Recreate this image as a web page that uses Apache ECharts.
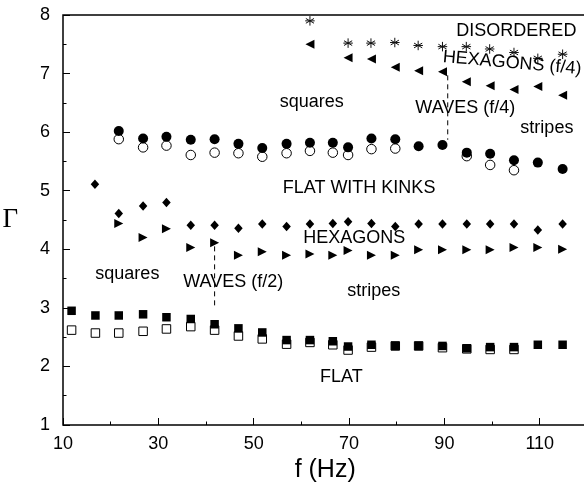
<!DOCTYPE html>
<html>
<head>
<meta charset="utf-8">
<script src="https://cdn.jsdelivr.net/npm/echarts@6/dist/echarts.min.js"></script>
<style>
  html, body { margin: 0; padding: 0; background: #fff; }
  #chart { width: 584px; height: 483px; }
</style>
</head>
<body>
<div id="chart"></div>
<script>
// ---- data ----
const asteriskF = [61.8, 69.8, 74.6, 79.6, 84.5, 89.6, 94.6, 99.5, 104.6, 109.6, 114.8];
const asteriskG = [7.90, 7.52, 7.52, 7.53, 7.48, 7.46, 7.46, 7.42, 7.36, 7.26, 7.33];

const leftTriF = [61.8, 69.8, 74.7, 79.7, 84.6, 89.6, 94.6, 99.6, 104.6, 109.6, 114.8];
const leftTriG = [7.50, 7.27, 7.25, 7.11, 7.05, 7.03, 6.86, 6.79, 6.73, 6.78, 6.63];

const fullCircF = [21.7, 26.8, 31.7, 36.8, 41.8, 46.8, 51.8, 56.9, 61.8, 66.6, 69.8, 74.7, 79.7, 84.6, 89.6, 94.7, 99.6, 104.6, 109.6, 114.8];
const fullCircG = [6.02, 5.89, 5.92, 5.87, 5.88, 5.80, 5.73, 5.80, 5.82, 5.82, 5.74, 5.89, 5.88, 5.76, 5.78, 5.65, 5.63, 5.52, 5.48, 5.37];

const openCircF = [21.7, 26.8, 31.7, 36.8, 41.8, 46.8, 51.8, 56.9, 61.8, 66.6, 69.8, 74.7, 79.7, 94.7, 99.6, 104.6];
const openCircG = [5.88, 5.74, 5.77, 5.61, 5.65, 5.64, 5.58, 5.64, 5.68, 5.65, 5.61, 5.71, 5.72, 5.59, 5.44, 5.35];

const diamondF = [16.7, 21.7, 26.8, 31.7, 36.8, 41.8, 46.8, 51.8, 56.9, 61.8, 66.6, 69.8, 74.7, 79.7, 84.6, 89.6, 94.7, 99.6, 104.6, 109.6, 114.8];
const diamondG = [5.11, 4.61, 4.74, 4.80, 4.41, 4.41, 4.36, 4.43, 4.39, 4.43, 4.44, 4.47, 4.44, 4.39, 4.43, 4.43, 4.43, 4.43, 4.43, 4.33, 4.43];

const rightTriF = [21.7, 26.8, 31.7, 36.8, 41.8, 46.8, 51.8, 56.9, 61.8, 66.6, 69.8, 74.7, 79.7, 84.6, 89.6, 94.7, 99.6, 104.6, 109.6, 114.8];
const rightTriG = [4.44, 4.20, 4.35, 4.03, 4.11, 3.90, 3.96, 3.90, 3.92, 3.90, 3.98, 3.90, 3.90, 3.99, 3.99, 3.99, 3.99, 4.03, 4.03, 4.00];

const fullSqF = [11.8, 16.8, 21.7, 26.8, 31.7, 36.8, 41.8, 46.8, 51.8, 56.9, 61.8, 66.6, 69.8, 74.7, 79.7, 84.6, 89.6, 94.7, 99.6, 104.6, 109.6, 114.8];
const fullSqG = [2.95, 2.87, 2.87, 2.89, 2.84, 2.81, 2.72, 2.65, 2.58, 2.45, 2.45, 2.43, 2.34, 2.37, 2.35, 2.35, 2.35, 2.31, 2.33, 2.33, 2.37, 2.37];

const openSqF = [11.8, 16.8, 21.7, 26.8, 31.7, 36.8, 41.8, 46.8, 51.8, 56.9, 61.8, 66.6, 69.8, 74.7, 79.7, 84.6, 89.6, 94.7, 99.6, 104.6];
const openSqG = [2.62, 2.57, 2.57, 2.60, 2.64, 2.68, 2.62, 2.52, 2.47, 2.38, 2.41, 2.37, 2.28, 2.33, 2.35, 2.35, 2.32, 2.30, 2.29, 2.29];

// dashed boundaries
const dashHighF = [90.7, 90.7];
const dashHighG = [6.97, 5.87];
const dashLowF = [41.8, 41.8];
const dashLowG = [4.05, 3.00];

// region annotations
const noteText = ['DISORDERED', 'HEXAGONS (f/4)', 'squares', 'WAVES (f/4)', 'stripes', 'FLAT WITH KINKS', 'HEXAGONS', 'squares', 'WAVES (f/2)', 'stripes', 'FLAT'];
const noteF = [105.1, 104.2, 62.2, 94.4, 111.5, 72.1, 71.1, 23.5, 45.7, 75.2, 68.4];
const noteG = [7.72, 7.18, 6.52, 6.41, 6.07, 5.04, 4.19, 3.58, 3.44, 3.28, 1.82];
const noteRot = [0, -5, 0, 0, 0, 0, 0, 0, 0, 0, 0];

// x tick labels are 10, 30, ... 110
const xTickStart = 10;

const zip = (a, b) => a.map((v, i) => [v, b[i]]);
const FONT = "'Liberation Sans', Arial, Helvetica, sans-serif";

const chart = echarts.init(document.getElementById('chart'), null, { renderer: 'canvas' });

const scatter = (data, symbol, size, style, rotate, z) => ({
  type: 'scatter', xAxisIndex: 0, yAxisIndex: 0,
  data, symbol, symbolSize: size, symbolRotate: rotate || 0,
  itemStyle: style, z: z || 2, animation: false,
  emphasis: { disabled: true }
});

const filled = { color: '#000', borderColor: '#000', borderWidth: 0, opacity: 1 };
const hollow = { color: '#fff', borderColor: '#000', borderWidth: 1, opacity: 1 };

const option = {
  animation: false,
  backgroundColor: '#fff',
  grid: {
    left: 63, top: 15, bottom: 58, right: -3.4,
    outerBoundsMode: 'none',
    show: true, borderColor: '#000', borderWidth: 1.5, backgroundColor: 'transparent',
    containLabel: false
  },
  xAxis: [
    {
      type: 'value', min: 10, max: 120, position: 'top',
      axisLine: { show: false }, axisTick: { show: false }, axisLabel: { show: false },
      splitLine: { show: false }
    },
    {
      type: 'value', min: 0, max: 110, interval: 20, position: 'bottom',
      axisLine: { show: false },
      axisTick: { show: true, inside: true, length: 7, lineStyle: { color: '#000', width: 1 } },
      minorTick: { show: true, splitNumber: 2, length: 3.5, lineStyle: { color: '#000', width: 1 } },
      axisLabel: {
        show: true, margin: 10, color: '#000', fontSize: 18, fontFamily: FONT,
        showMaxLabel: false,
        formatter: v => String(v + xTickStart)
      },
      splitLine: { show: false },
      name: 'f (Hz)', nameLocation: 'middle', nameGap: 30,
      nameTextStyle: { color: '#000', fontSize: 25, fontFamily: FONT }
    }
  ],
  yAxis: {
    type: 'value', min: 1, max: 8, interval: 1,
    axisLine: { show: false },
    axisTick: { show: true, inside: true, length: 7, lineStyle: { color: '#000', width: 1 } },
    minorTick: { show: true, splitNumber: 2, length: 3.5, lineStyle: { color: '#000', width: 1 } },
    axisLabel: { margin: 13, color: '#000', fontSize: 18, fontFamily: FONT },
    splitLine: { show: false },
    name: 'Γ', nameLocation: 'middle', nameGap: 45, nameRotate: 0,
    nameTextStyle: { color: '#000', fontSize: 27, fontFamily: "'Liberation Serif', 'Times New Roman', serif", padding: [0, 0, 16, 0] }
  },
  series: [
    {
      type: 'line', xAxisIndex: 0, yAxisIndex: 0, data: zip(dashHighF, dashHighG),
      symbol: 'none', lineStyle: { color: '#000', width: 1, type: [5, 4] }, z: 1, silent: true
    },
    {
      type: 'line', xAxisIndex: 0, yAxisIndex: 0, data: zip(dashLowF, dashLowG),
      symbol: 'none', lineStyle: { color: '#000', width: 1, type: [5, 4] }, z: 1, silent: true
    },
    scatter(zip(openSqF, openSqG), 'rect', 8.5, hollow, 0, 2),
    scatter(zip(fullSqF, fullSqG), 'rect', 8.5, filled, 0, 3),
    scatter(zip(openCircF, openCircG), 'circle', 9.5, hollow, 0, 2),
    scatter(zip(fullCircF, fullCircG), 'circle', 10, filled, 0, 3),
    scatter(zip(diamondF, diamondG), 'diamond', [8.5, 9.5], filled, 0, 3),
    scatter(zip(rightTriF, rightTriG), 'triangle', [9, 9], filled, -90, 3),
    scatter(zip(leftTriF, leftTriG), 'triangle', [9, 9], filled, 90, 3),
    scatter(zip(asteriskF, asteriskG),
      'path://M5,0L5,10M0.7,2.5L9.3,7.5M9.3,2.5L0.7,7.5M0,5L10,5', 9.5,
      { color: 'none', borderColor: '#111', borderWidth: 1, opacity: 1 }, 0, 3),
    {
      type: 'scatter', xAxisIndex: 0, yAxisIndex: 0, symbolSize: 0, z: 5, silent: true,
      itemStyle: { opacity: 1 },
      data: noteText.map((t, i) => ({ value: [noteF[i], noteG[i]], name: t, label: { rotate: noteRot[i] } })),
      label: {
        show: true, position: 'inside', formatter: p => p.name, opacity: 1,
        color: '#000', fontSize: 18, fontFamily: FONT
      }
    }
  ]
};
chart.setOption(option);
</script>
</body>
</html>
